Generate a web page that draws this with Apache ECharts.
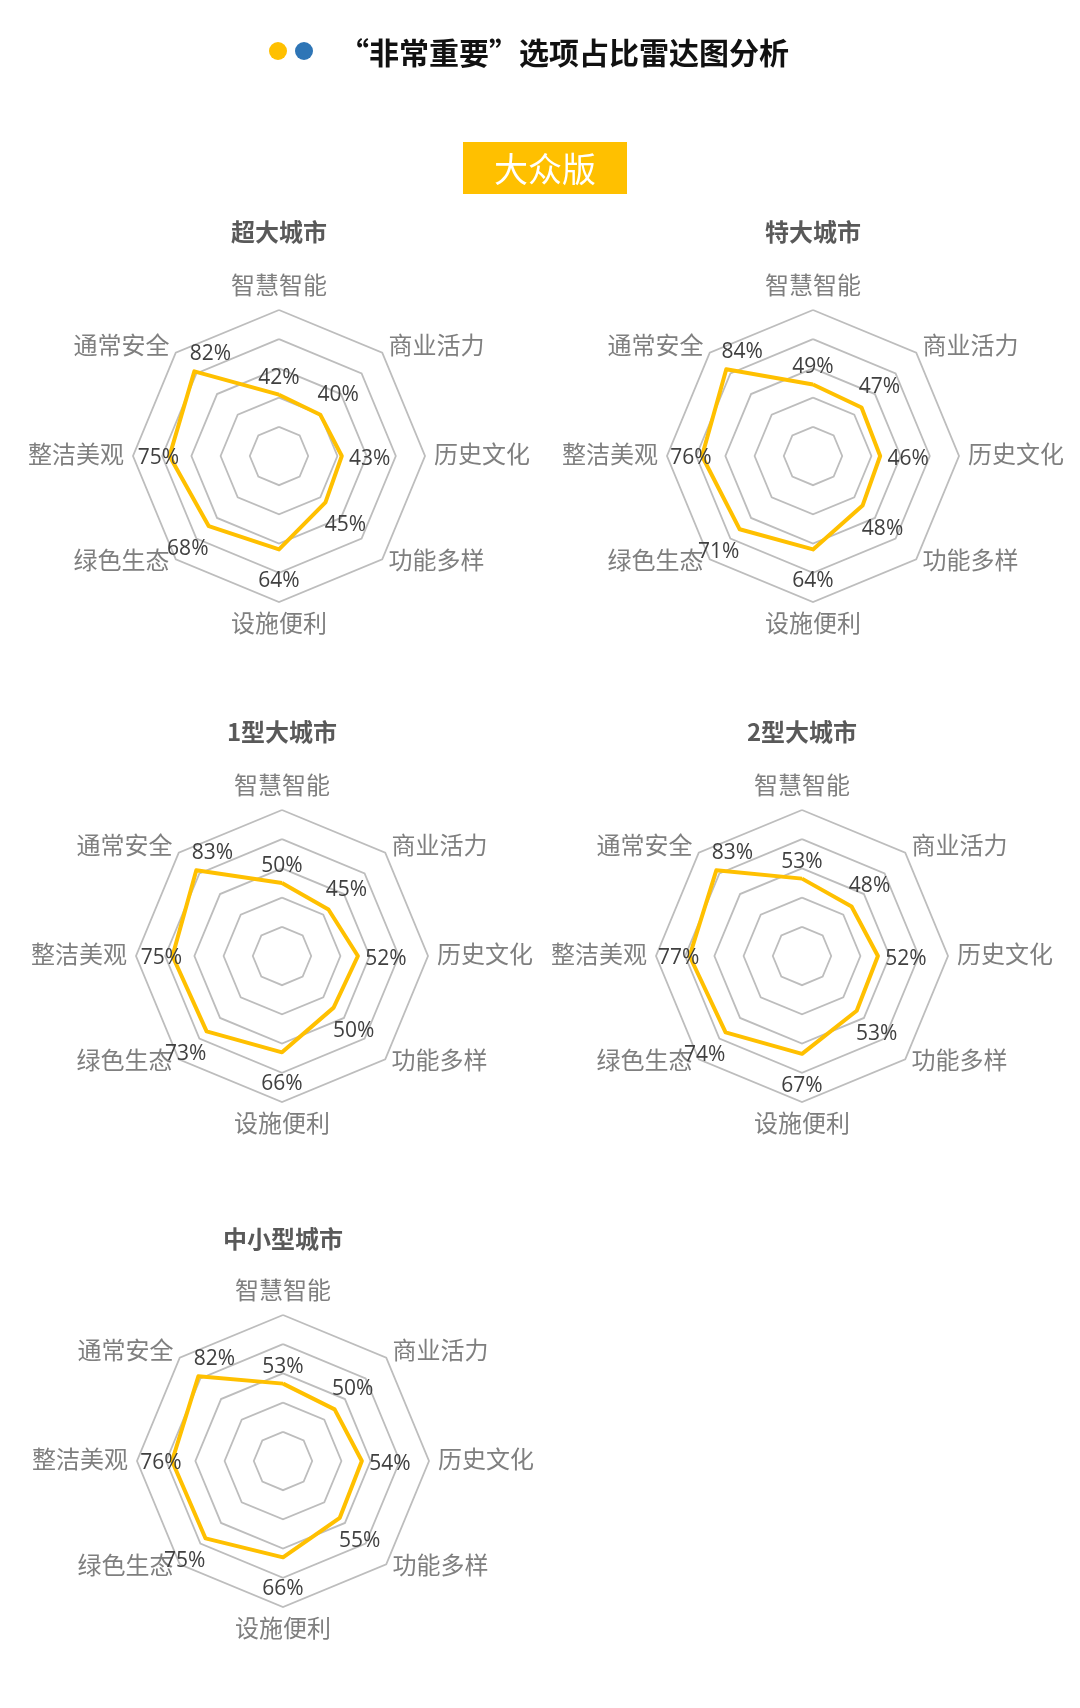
<!DOCTYPE html>
<html>
<head>
<meta charset="utf-8">
<script src="https://cdn.jsdelivr.net/npm/echarts@6/dist/echarts.min.js"></script>
<style>
html,body{margin:0;padding:0;background:#fff;}
#main{width:1080px;height:1708px;}
</style>
</head>
<body>
<div id="main"></div>
<script>
// Indicators, listed clockwise starting from the top
var indicatorNames = ['智慧智能', '商业活力', '历史文化', '功能多样', '设施便利', '绿色生态', '整洁美观', '通常安全'];
var cityTypes = ['超大城市', '特大城市', '1型大城市', '2型大城市', '中小型城市'];
// "非常重要" share (%) per indicator, clockwise order as above
var superCity   = [42, 40, 43, 45, 64, 68, 75, 82];
var megaCity    = [49, 47, 46, 48, 64, 71, 76, 84];
var type1City   = [50, 45, 52, 50, 66, 73, 75, 83];
var type2City   = [53, 48, 52, 53, 67, 74, 77, 83];
var smallCity   = [53, 50, 54, 55, 66, 75, 76, 82];
var mainTitle = '“非常重要”选项占比雷达图分析';
var editionLabel = '大众版';

var seriesValues = [superCity, megaCity, type1City, type2City, smallCity];

// layout (styling / positions)
var centers = [[279, 456], [813, 456], [282, 956], [802, 956], [283, 1461]];
var headingY = [232, 232, 732, 732, 1239];
var RADIUS = 146;
var CJK = '"Noto Sans CJK SC", "Noto Sans", sans-serif';
var NUMF = '"Open Sans", "Noto Sans", sans-serif';

// ECharts places radar indicators counter-clockwise; map to clockwise reading order
var order = [0, 7, 6, 5, 4, 3, 2, 1];
// value-label offsets (dx, dy) by clockwise index
var labelOffsets = [[0, -17], [18, -20], [28, 3], [20, 23], [0, 32], [-21, 23], [-11, 2], [16, -17]];
// indicator-name bottom padding by clockwise index (nudges names upward)
var namePadBottom = [4, 4, 4, 12, 0, 12, 4, 4];

var rich = {};
labelOffsets.forEach(function (o, k) {
  var dx = o[0], dy = o[1];
  rich['d' + k] = {
    fontSize: 21, fontFamily: NUMF, color: '#404040',
    padding: [Math.max(0, 2 * dy), Math.max(0, -2 * dx), Math.max(0, -2 * dy), Math.max(0, 2 * dx)]
  };
});
var nameRich = {};
namePadBottom.forEach(function (pb, k) {
  nameRich['n' + k] = { color: '#7f7f7f', fontSize: 24, fontFamily: CJK, padding: [0, 0, pb, 0] };
});

var radars = [], series = [], graphics = [];
seriesValues.forEach(function (vals, i) {
  radars.push({
    center: centers[i],
    radius: RADIUS,
    startAngle: 90,
    splitNumber: 5,
    shape: 'polygon',
    nameGap: 9,
    indicator: order.map(function (k) { return { name: indicatorNames[k], min: 0, max: 100 }; }),
    axisName: {
      color: '#7f7f7f', fontSize: 24, fontFamily: CJK,
      formatter: function (name) {
        var k = indicatorNames.indexOf(name);
        return '{n' + k + '|' + name + '}';
      },
      rich: nameRich
    },
    splitLine: { lineStyle: { color: '#bdbdbd', width: 1.8 } },
    splitArea: { show: false },
    axisLine: { show: false },
    axisTick: { show: false },
    axisLabel: { show: false }
  });
  series.push({
    type: 'radar',
    radarIndex: i,
    symbol: 'circle',
    symbolSize: 1,
    itemStyle: { color: '#FFC000' },
    lineStyle: { color: '#FFC000', width: 4 },
    silent: true,
    label: {
      show: true,
      position: 'inside',
      formatter: function (p) {
        var j = p.dimensionIndex;
        var v = Array.isArray(p.value) ? p.value[j] : p.value;
        var k = (j == null) ? 0 : order[j];
        return '{d' + k + '|' + v + '%}';
      },
      rich: rich
    },
    data: [{ value: order.map(function (k) { return vals[k]; }), name: cityTypes[i] }]
  });
  graphics.push({
    type: 'text',
    x: centers[i][0], y: headingY[i],
    style: {
      text: cityTypes[i], fill: '#595959', font: 'bold 24px ' + CJK,
      textAlign: 'center', textVerticalAlign: 'middle'
    }
  });
});

// header decorations
graphics.push({ type: 'circle', shape: { cx: 278, cy: 51, r: 9 }, style: { fill: '#FFC000' } });
graphics.push({ type: 'circle', shape: { cx: 304, cy: 51, r: 9 }, style: { fill: '#2E75B6' } });
graphics.push({
  type: 'text', x: 564, y: 53,
  style: { text: mainTitle, fill: '#111', font: 'bold 30px ' + CJK, textAlign: 'center', textVerticalAlign: 'middle' }
});
graphics.push({ type: 'rect', shape: { x: 463, y: 142, width: 164, height: 52 }, style: { fill: '#FFC000' } });
graphics.push({
  type: 'text', x: 545, y: 169,
  style: { text: editionLabel, fill: '#fff', font: '34px ' + CJK, textAlign: 'center', textVerticalAlign: 'middle' }
});

var chart = echarts.init(document.getElementById('main'), null, { renderer: 'canvas' });
chart.setOption({
  backgroundColor: '#ffffff',
  animation: false,
  radar: radars,
  series: series,
  graphic: graphics
});
</script>
</body>
</html>
